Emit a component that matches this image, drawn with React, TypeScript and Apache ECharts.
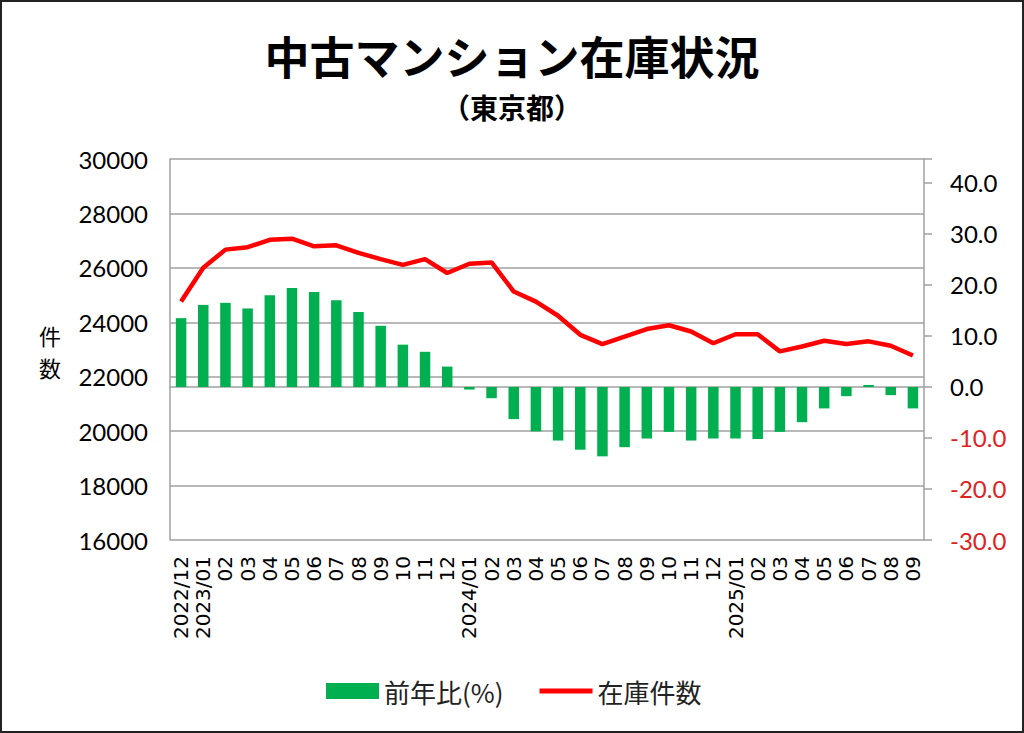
import React, { useEffect, useRef } from "react";
import * as echarts from "echarts";

const categories: string[] = [
  "2022/12", "2023/01", "02", "03", "04", "05", "06", "07", "08", "09", "10", "11", "12",
  "2024/01", "02", "03", "04", "05", "06", "07", "08", "09", "10", "11", "12",
  "2025/01", "02", "03", "04", "05", "06", "07", "08", "09",
];

const stockCount: number[] = [
  24760, 26000, 26670, 26760, 27030, 27070, 26790, 26830, 26550, 26320, 26110, 26320,
  25810, 26150, 26200, 25130, 24760, 24240, 23540, 23200, 23470, 23750, 23890, 23660,
  23230, 23560, 23560, 22930, 23110, 23320, 23200, 23300, 23140, 22780,
];

const yoyPercent: number[] = [
  13.5, 16.1, 16.5, 15.4, 18.0, 19.4, 18.6, 17.0, 14.7, 12.0, 8.3, 6.9,
  4.0, -0.5, -2.2, -6.3, -8.7, -10.5, -12.3, -13.6, -11.8, -10.1, -8.8, -10.5,
  -10.1, -10.1, -10.2, -8.8, -6.9, -4.2, -1.8, 0.4, -1.6, -4.2,
];

const titleText = "中古マンション在庫状況";
const subTitleText = "（東京都）";
const yoyName = "前年比(%)";
const stockName = "在庫件数";
const leftAxisNameChars: string[] = ["件", "数"];

const GRAY = "#A0A0A0";
const CJK = '"Noto Sans CJK JP", "Noto Sans", sans-serif';
const NUM = 'Lato, "Noto Sans", sans-serif';

export default function App() {
  const ref = useRef<HTMLDivElement>(null);

  useEffect(() => {
    if (!ref.current) return;
    const chart = echarts.init(ref.current, undefined, { renderer: "svg" });
    chart.setOption({
      animation: false,
      backgroundColor: "#ffffff",
      title: [
        {
          text: titleText,
          left: "center",
          top: 28,
          textStyle: { fontFamily: CJK, fontSize: 45, fontWeight: "bold", color: "#000" },
        },
        {
          text: subTitleText,
          left: "center",
          top: 88,
          textStyle: { fontFamily: CJK, fontSize: 28, fontWeight: "bold", color: "#000" },
        },
      ],
      graphic: [
        {
          type: "rect",
          shape: { x: 1, y: 1, width: 1022, height: 731 },
          style: { fill: "none", stroke: "#222", lineWidth: 2 },
          silent: true,
        },
        ...leftAxisNameChars.map((ch, i) => ({
          type: "text",
          x: 50,
          y: 335 + i * 32,
          style: {
            text: ch,
            fontFamily: CJK,
            fontSize: 22,
            fill: "#000",
            align: "center",
            verticalAlign: "middle",
          },
        })),
      ],
      legend: {
        left: 321,
        top: 673,
        itemWidth: 53,
        itemHeight: 16,
        itemGap: 36,
        textStyle: { fontFamily: CJK, fontSize: 26, color: "#222" },
        data: [
          { name: yoyName, icon: "rect" },
          { name: stockName, icon: "path://M0,0 L54,0 L54,5 L0,5 Z" },
        ],
      },
      grid: { left: 170, right: 100, top: 159, bottom: 193 },
      xAxis: {
        type: "category",
        data: categories,
        boundaryGap: true,
        axisLine: { show: true, lineStyle: { color: GRAY, width: 1.5 } },
        axisTick: { show: false },
        axisLabel: {
          interval: 0,
          rotate: 90,
          margin: 16,
          fontFamily: '"DejaVu Sans", sans-serif',
          fontSize: 20,
          color: "#000",
        },
      },
      yAxis: [
        {
          type: "value",
          position: "left",
          min: 16000,
          max: 30000,
          interval: 2000,
          axisLine: { show: true, lineStyle: { color: GRAY, width: 1.5 } },
          axisTick: { show: false },
          splitLine: { show: true, lineStyle: { color: GRAY, width: 1.5 } },
          axisLabel: {
            fontFamily: NUM,
            fontSize: 24,
            color: "#000",
            margin: 22,
            formatter: (v: number) => String(v),
          },
        },
        {
          type: "value",
          position: "right",
          min: -30,
          max: 44.7,
          interval: 10,
          axisLine: { show: true, lineStyle: { color: GRAY, width: 1.5 } },
          axisTick: { show: true, length: 8, lineStyle: { color: GRAY, width: 1.5 } },
          splitLine: { show: false },
          axisLabel: {
            fontFamily: NUM,
            fontSize: 24,
            margin: 26,
            formatter: (v: number) => (v > 44 ? "" : v.toFixed(1)),
            color: (v: any) => (Number(v) < 0 ? "#DD2222" : "#000"),
          },
        },
      ],
      series: [
        {
          name: yoyName,
          type: "bar",
          yAxisIndex: 1,
          data: yoyPercent,
          barWidth: 10.5,
          itemStyle: { color: "#00B050" },
        },
        {
          name: stockName,
          type: "line",
          yAxisIndex: 0,
          data: stockCount,
          symbol: "none",
          showSymbol: false,
          lineStyle: { color: "#FF0000", width: 4.5 },
          itemStyle: { color: "#FF0000" },
        },
      ],
    });
    return () => chart.dispose();
  }, []);

  return (
    <div
      ref={ref}
      style={{ position: "fixed", left: 0, top: 0, width: 1024, height: 733, background: "#fff" }}
    />
  );
}
